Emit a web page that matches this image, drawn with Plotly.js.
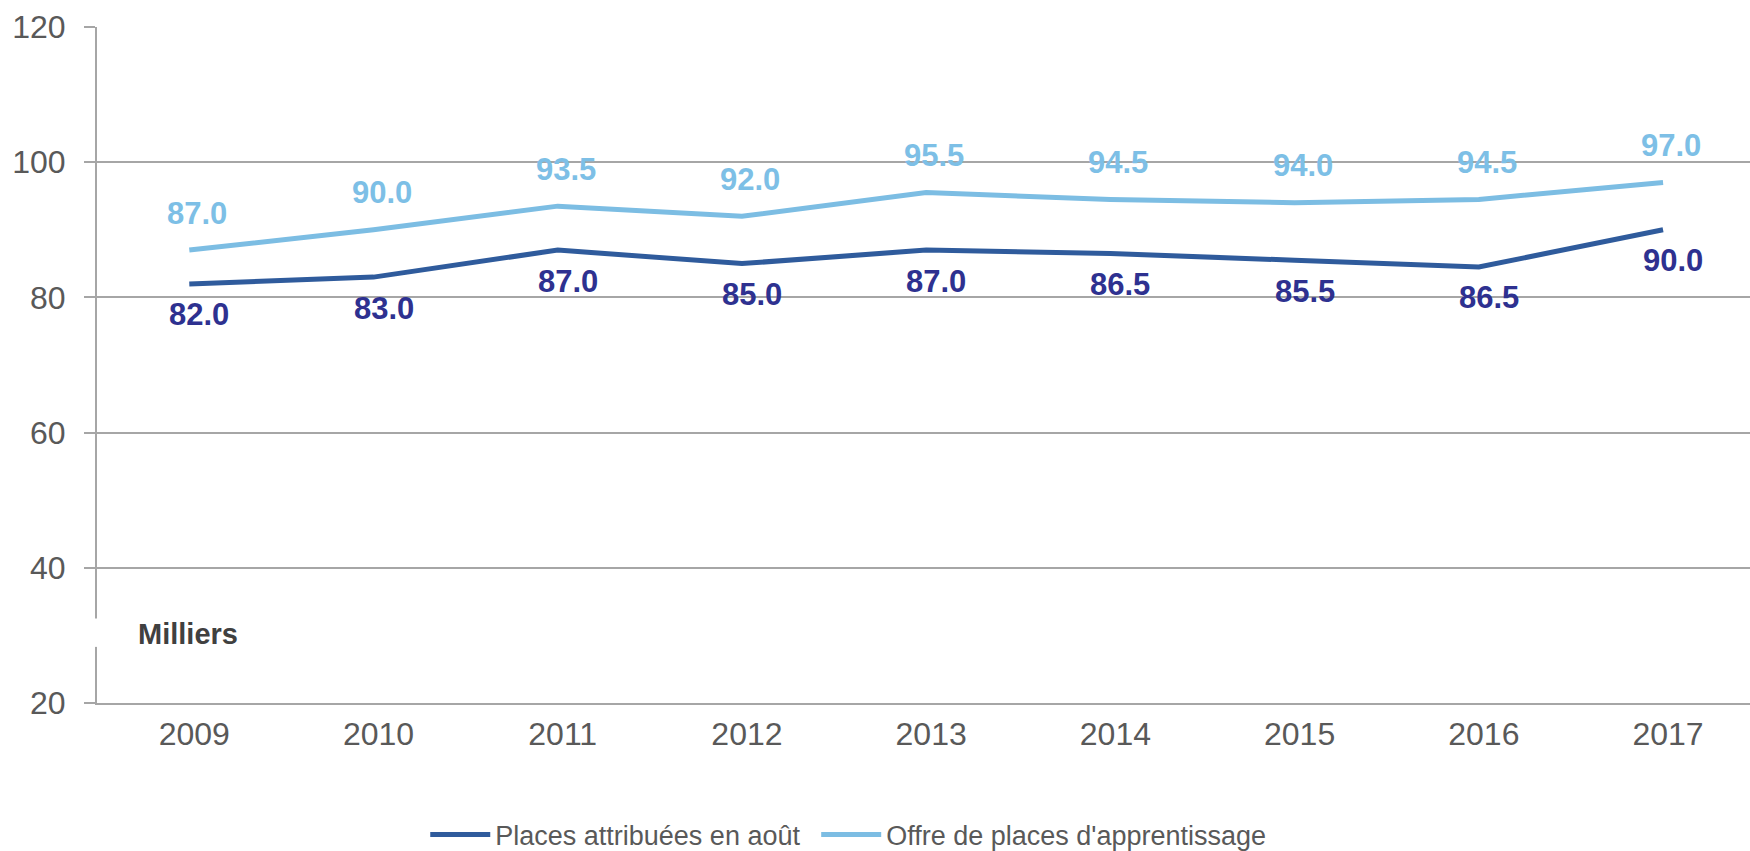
<!DOCTYPE html>
<html>
<head>
<meta charset="utf-8">
<script src="https://cdn.plot.ly/plotly-3.0.1.min.js"></script>
<style>
html,body{margin:0;padding:0;background:#fff;}
#chart{width:1750px;height:851px;}
</style>
</head>
<body>
<div id="chart"></div>
<script>
// Data
var years = ['2009', '2010', '2011', '2012', '2013', '2014', '2015', '2016', '2017'];
var placesValues = [82.0, 83.0, 87.0, 85.0, 87.0, 86.5, 85.5, 84.5, 90.0];
var placesLabels = ['82.0', '83.0', '87.0', '85.0', '87.0', '86.5', '85.5', '86.5', '90.0'];
var offreValues = [87.0, 90.0, 93.5, 92.0, 95.5, 94.5, 94.0, 94.5, 97.0];
var offreLabels = ['87.0', '90.0', '93.5', '92.0', '95.5', '94.5', '94.0', '94.5', '97.0'];
var yTicks = [20, 40, 60, 80, 100, 120];
var seriesNames = ['Places attribuées en août', "Offre de places d'apprentissage"];
var unitLabel = 'Milliers';

var FONT = 'Liberation Sans, Arial, sans-serif';
var darkLine = '#2f5b9c';
var lightLine = '#7cbde3';
var darkText = '#2e3190';
var lightText = '#7dbfe6';
var gridCol = '#a6a6a6';

var traces = [
  {
    x: years, y: placesValues, name: seriesNames[0], type: 'scatter', mode: 'lines',
    line: {color: darkLine, width: 5, shape: 'linear'}, hoverinfo: 'skip', legend: 'legend'
  },
  {
    x: years, y: offreValues, name: seriesNames[1], type: 'scatter', mode: 'lines',
    line: {color: lightLine, width: 5, shape: 'linear'}, hoverinfo: 'skip', legend: 'legend2'
  }
];

var annotations = [];
for (var i = 0; i < years.length; i++) {
  annotations.push({
    x: i, y: offreValues[i], xref: 'x', yref: 'y', text: '<b>' + offreLabels[i] + '</b>',
    showarrow: false, yshift: 37, xshift: 8, xanchor: 'center', yanchor: 'middle',
    font: {family: FONT, size: 31, color: lightText}
  });
  annotations.push({
    x: i, y: placesValues[i], xref: 'x', yref: 'y', text: '<b>' + placesLabels[i] + '</b>',
    showarrow: false, yshift: -31, xshift: 10, xanchor: 'center', yanchor: 'middle',
    font: {family: FONT, size: 31, color: darkText}
  });
}
annotations.push({
  x: 0.0238, xref: 'paper', xanchor: 'left', y: 30.2, yref: 'y', yanchor: 'middle',
  text: '<b>' + unitLabel + '</b>', showarrow: false,
  font: {family: FONT, size: 29, color: '#404040'}
});

function legendCfg(xpos) {
  return {
    orientation: 'h', xref: 'container', yref: 'container',
    x: xpos, xanchor: 'left', y: 0.019, yanchor: 'middle',
    font: {family: FONT, size: 27, color: '#595959'},
    itemwidth: 60, traceorder: 'normal', bgcolor: 'rgba(0,0,0,0)'
  };
}

var layout = {
  width: 1750, height: 851,
  margin: {l: 97, r: 0, t: 27, b: 148, pad: 0},
  paper_bgcolor: '#ffffff', plot_bgcolor: '#ffffff',
  font: {family: FONT, color: '#595959'},
  showlegend: true,
  legend: legendCfg(0.243),
  legend2: legendCfg(0.4664),
  xaxis: {
    type: 'category', range: [-0.501, 8.472], fixedrange: true,
    showgrid: false, zeroline: false, showline: true, linecolor: gridCol, linewidth: 2,
    ticks: '', tickfont: {family: FONT, size: 32, color: '#595959'},
    ticklabelstandoff: 2, ticklabelshift: 5
  },
  yaxis: {
    range: [20, 120], tickvals: yTicks, fixedrange: true,
    showgrid: true, gridcolor: gridCol, gridwidth: 2, zeroline: false,
    showline: true, linecolor: gridCol, linewidth: 2,
    ticks: 'outside', ticklen: 11, tickcolor: gridCol, tickwidth: 2,
    tickfont: {family: FONT, size: 32, color: '#595959'},
    ticklabelstandoff: 12
  },
  shapes: [
    {type: 'rect', layer: 'above', xref: 'paper', yref: 'y', x0: -0.004, x1: 0.004, y0: 28.3, y1: 32.5,
     fillcolor: '#ffffff', line: {width: 0}}
  ],
  annotations: annotations
};

Plotly.newPlot('chart', traces, layout, {displayModeBar: false, staticPlot: true});
</script>
</body>
</html>
